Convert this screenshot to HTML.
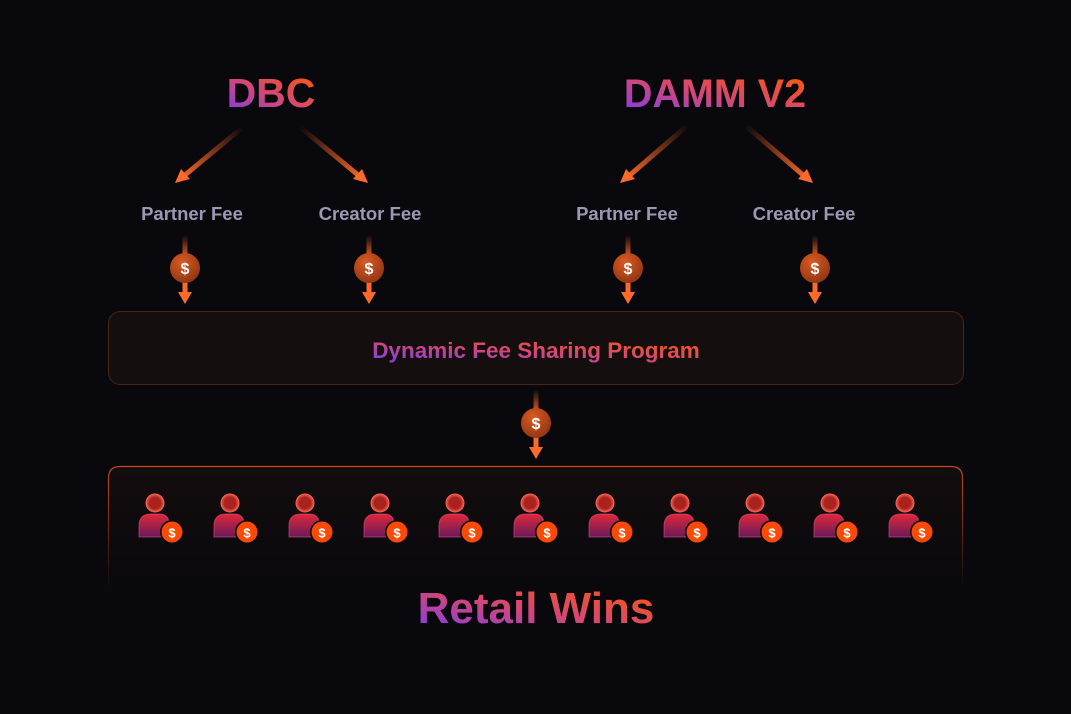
<!DOCTYPE html>
<html><head><meta charset="utf-8"><style>
html,body{margin:0;padding:0;background:#09080c;}
svg{display:block}
text{font-family:"Liberation Sans",sans-serif;font-weight:bold}
</style></head><body>
<svg width="1071" height="714" viewBox="0 0 1071 714" xmlns="http://www.w3.org/2000/svg">
<defs>
<linearGradient id="tg" x1="0" y1="1" x2="1" y2="0">
<stop offset="0" stop-color="#7b3cf0"/><stop offset="0.45" stop-color="#d2477a"/><stop offset="1" stop-color="#ff5a00"/>
</linearGradient>
<linearGradient id="a1" gradientUnits="userSpaceOnUse" x1="243" y1="127" x2="180" y2="180"><stop offset="0" stop-color="#ff6a2a" stop-opacity="0"/><stop offset="1" stop-color="#ff6a2a"/></linearGradient>
<linearGradient id="a2" gradientUnits="userSpaceOnUse" x1="300" y1="127" x2="363" y2="180"><stop offset="0" stop-color="#ff6a2a" stop-opacity="0"/><stop offset="1" stop-color="#ff6a2a"/></linearGradient>
<linearGradient id="a3" gradientUnits="userSpaceOnUse" x1="688" y1="125" x2="625" y2="180"><stop offset="0" stop-color="#ff6a2a" stop-opacity="0"/><stop offset="1" stop-color="#ff6a2a"/></linearGradient>
<linearGradient id="a4" gradientUnits="userSpaceOnUse" x1="745" y1="125" x2="808" y2="180"><stop offset="0" stop-color="#ff6a2a" stop-opacity="0"/><stop offset="1" stop-color="#ff6a2a"/></linearGradient>
<linearGradient id="vl" x1="0" y1="0" x2="0" y2="1"><stop offset="0" stop-color="#ff6a2a" stop-opacity="0"/><stop offset="1" stop-color="#ff6a2a" stop-opacity="0.8"/></linearGradient>
<radialGradient id="coin" cx="0.4" cy="0.3" r="0.8"><stop offset="0" stop-color="#d95a22"/><stop offset="1" stop-color="#8a3212"/></radialGradient>
<linearGradient id="box2" x1="0" y1="0" x2="0" y2="1"><stop offset="0" stop-color="#c24a1a"/><stop offset="1" stop-color="#c24a1a" stop-opacity="0"/></linearGradient>
<linearGradient id="box2f" x1="0" y1="0" x2="0" y2="1"><stop offset="0" stop-color="#130d0e"/><stop offset="1" stop-color="#09080c"/></linearGradient>
<linearGradient id="body" x1="0" y1="0" x2="0" y2="1"><stop offset="0" stop-color="#e0283a"/><stop offset="1" stop-color="#6a1a5a"/></linearGradient>
<radialGradient id="head" cx="0.5" cy="0.5" r="0.5"><stop offset="0.6" stop-color="#a9221e"/><stop offset="1" stop-color="#ff6a5a"/></radialGradient>
<g id="vcoin">
<rect x="-2.5" y="-33" width="5" height="20" fill="url(#vl)"/>
<rect x="-2.5" y="10" width="5" height="18" fill="#ff6a2a"/>
<path d="M-7,24 L7,24 L0,36 Z" fill="#ff6a2a"/>
<circle r="15" fill="url(#coin)"/>
<text y="6" text-anchor="middle" font-size="16" fill="#fff">$</text>
</g>
<g id="person">
<circle cx="0" cy="503" r="9.5" fill="url(#head)"/>
<path d="M-16,537 L-16,526 Q-16,514 -4,514 L4,514 Q14,514 14,524 L14,537 Z" fill="url(#body)" stroke="#ff5a9a" stroke-opacity="0.5" stroke-width="1"/>
<circle cx="17" cy="532" r="12" fill="#09080c"/>
<circle cx="17" cy="532" r="10.5" fill="#fa4a05"/>
<text x="17" y="537.5" text-anchor="middle" font-size="13" fill="#fff">$</text>
</g>
</defs>
<rect width="1071" height="714" fill="#09080c"/>

<text x="271" y="107" text-anchor="middle" font-size="41" fill="url(#tg)">DBC</text>
<text x="715" y="107" text-anchor="middle" font-size="39.5" fill="url(#tg)">DAMM V2</text>

<line x1="243" y1="127" x2="185" y2="175" stroke="url(#a1)" stroke-width="5"/>
<path d="M175,183 L181,169 L190,179 Z" fill="#ff6a2a"/>
<line x1="300" y1="127" x2="358" y2="175" stroke="url(#a2)" stroke-width="5"/>
<path d="M368,183 L362,169 L353,179 Z" fill="#ff6a2a"/>
<line x1="688" y1="125" x2="630" y2="175" stroke="url(#a3)" stroke-width="5"/>
<path d="M620,183 L626,169 L635,179 Z" fill="#ff6a2a"/>
<line x1="745" y1="125" x2="803" y2="175" stroke="url(#a4)" stroke-width="5"/>
<path d="M813,183 L807,169 L798,179 Z" fill="#ff6a2a"/>

<g font-size="18.5" fill="#9a98b3" text-anchor="middle">
<text x="192" y="220">Partner  Fee</text>
<text x="370" y="220">Creator Fee</text>
<text x="627" y="220">Partner  Fee</text>
<text x="804" y="220">Creator Fee</text>
</g>

<use href="#vcoin" x="185" y="268"/>
<use href="#vcoin" x="369" y="268"/>
<use href="#vcoin" x="628" y="268"/>
<use href="#vcoin" x="815" y="268"/>

<rect x="108.5" y="311.5" width="855" height="73" rx="12" fill="#150e0e" stroke="#4a2416" stroke-width="1"/>
<text x="536" y="358" text-anchor="middle" font-size="22.5" fill="url(#tg)">Dynamic Fee Sharing Program</text>

<use href="#vcoin" x="536" y="423"/>

<path d="M108.5,590 L108.5,478 Q108.5,466.5 120,466.5 L951,466.5 Q962.5,466.5 962.5,478 L962.5,590" fill="url(#box2f)" stroke="url(#box2)" stroke-width="1.2"/>

<use href="#person" x="155"/>
<use href="#person" x="230"/>
<use href="#person" x="305"/>
<use href="#person" x="380"/>
<use href="#person" x="455"/>
<use href="#person" x="530"/>
<use href="#person" x="605"/>
<use href="#person" x="680"/>
<use href="#person" x="755"/>
<use href="#person" x="830"/>
<use href="#person" x="905"/>

<text x="536" y="623" text-anchor="middle" font-size="44" fill="url(#tg)">Retail Wins</text>
</svg>
</body></html>
